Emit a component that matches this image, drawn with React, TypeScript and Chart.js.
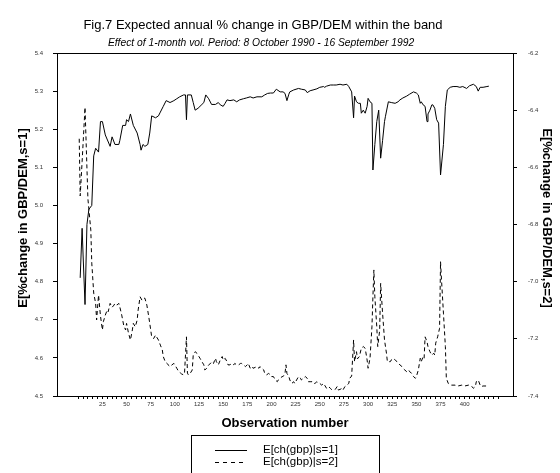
import React, { useEffect, useRef } from "react";
import { Chart, registerables } from "chart.js";

Chart.register(...registerables);

// Series 1: E[ch(gbp)|s=1] (left axis)
const obs1 = [2,4,5,7,9,11,14,16,18,21,23,25,28,33,35,38,42,43,46,49,50,52,54,57,61,64,65,67,69,72,74,76,80,83,85,88,91,95,99,102,105,109,111,112,113,117,119,121,124,128,130,132,135,138,142,145,147,150,152,154,157,161,164,167,171,174,178,181,185,190,193,196,199,202,205,209,212,214,216,218,219,223,228,231,235,237,240,243,247,250,254,255,257,261,264,267,271,274,278,280,283,285,286,288,290,292,293,295,297,299,300,302,304,305,307,309,311,313,315,317,318,321,324,328,331,333,336,340,343,347,350,352,354,355,357,359,361,362,364,366,367,369,371,373,375,378,380,382,385,388,392,395,398,402,405,409,412,414,416,419,423,425];
const gbpS1 = [4.81,4.94,4.87,4.74,4.95,4.99,5.0,5.13,5.15,5.14,5.22,5.22,5.185,5.155,5.18,5.16,5.16,5.17,5.21,5.21,5.225,5.22,5.24,5.21,5.19,5.16,5.145,5.16,5.155,5.16,5.19,5.235,5.23,5.235,5.245,5.26,5.275,5.27,5.275,5.28,5.285,5.29,5.29,5.225,5.29,5.29,5.27,5.25,5.255,5.265,5.27,5.29,5.28,5.265,5.265,5.27,5.264,5.26,5.268,5.277,5.275,5.277,5.272,5.277,5.28,5.282,5.285,5.282,5.285,5.285,5.29,5.294,5.295,5.295,5.305,5.298,5.298,5.294,5.275,5.292,5.298,5.303,5.307,5.305,5.303,5.296,5.301,5.303,5.306,5.31,5.312,5.31,5.313,5.316,5.316,5.316,5.318,5.316,5.318,5.312,5.298,5.23,5.287,5.272,5.268,5.268,5.242,5.25,5.242,5.26,5.281,5.272,5.268,5.093,5.16,5.22,5.25,5.124,5.17,5.22,5.234,5.272,5.27,5.268,5.272,5.277,5.282,5.287,5.292,5.298,5.295,5.29,5.268,5.272,5.264,5.26,5.22,5.24,5.25,5.264,5.264,5.255,5.225,5.216,5.08,5.16,5.26,5.303,5.31,5.312,5.312,5.31,5.312,5.307,5.314,5.318,5.312,5.3,5.31,5.31,5.312,5.313];

// Series 2: E[ch(gbp)|s=2] (right axis)
const obs2 = [1,2,4,7,10,13,14,16,18,19,21,23,25,26,28,30,31,33,35,37,38,40,42,43,45,47,49,50,52,54,56,57,59,61,62,64,66,68,69,71,73,75,76,78,80,81,83,85,87,88,90,92,93,95,97,99,100,102,104,106,107,109,110,112,113,114,116,118,119,121,123,124,126,128,130,131,133,135,137,138,140,142,143,145,147,149,150,152,154,155,157,159,161,162,164,166,168,169,171,173,175,176,178,180,181,185,187,188,190,192,193,195,197,199,200,202,204,206,207,209,211,212,214,215,216,218,219,221,223,224,226,228,230,231,233,235,237,238,240,242,243,245,247,249,250,252,254,255,257,259,261,262,264,266,268,269,271,273,274,276,278,280,281,283,285,286,288,289,291,293,295,297,299,300,302,304,305,306,307,309,310,312,313,315,317,319,320,323,324,326,328,330,331,333,335,336,338,340,342,343,345,347,349,350,352,354,355,357,358,359,361,362,364,366,368,369,370,372,374,375,376,378,380,381,383,386,390,393,397,400,404,407,409,411,412,414,416,417,419,423,424];
const gbpS2 = [-6.5,-6.7,-6.58,-6.39,-6.71,-6.82,-6.935,-7.04,-7.076,-7.134,-7.047,-7.12,-7.169,-7.14,-7.117,-7.099,-7.105,-7.076,-7.09,-7.082,-7.076,-7.082,-7.076,-7.088,-7.117,-7.152,-7.169,-7.146,-7.18,-7.204,-7.169,-7.146,-7.158,-7.134,-7.099,-7.053,-7.065,-7.058,-7.058,-7.082,-7.123,-7.169,-7.193,-7.199,-7.187,-7.193,-7.204,-7.222,-7.239,-7.262,-7.28,-7.286,-7.291,-7.297,-7.291,-7.286,-7.291,-7.303,-7.315,-7.32,-7.323,-7.326,-7.32,-7.193,-7.32,-7.326,-7.32,-7.309,-7.257,-7.245,-7.251,-7.257,-7.268,-7.28,-7.291,-7.309,-7.303,-7.291,-7.286,-7.28,-7.286,-7.268,-7.28,-7.291,-7.274,-7.262,-7.274,-7.268,-7.28,-7.291,-7.291,-7.286,-7.291,-7.286,-7.291,-7.291,-7.286,-7.286,-7.291,-7.297,-7.291,-7.286,-7.303,-7.297,-7.303,-7.297,-7.303,-7.297,-7.303,-7.309,-7.321,-7.326,-7.321,-7.326,-7.332,-7.332,-7.344,-7.35,-7.344,-7.338,-7.332,-7.332,-7.321,-7.291,-7.321,-7.332,-7.344,-7.356,-7.35,-7.356,-7.344,-7.332,-7.338,-7.344,-7.338,-7.332,-7.338,-7.35,-7.35,-7.35,-7.356,-7.356,-7.35,-7.356,-7.356,-7.362,-7.356,-7.362,-7.373,-7.367,-7.373,-7.377,-7.379,-7.377,-7.367,-7.379,-7.377,-7.373,-7.379,-7.367,-7.362,-7.356,-7.338,-7.33,-7.204,-7.28,-7.245,-7.27,-7.262,-7.233,-7.227,-7.233,-7.274,-7.303,-7.268,-7.158,-7.053,-6.959,-7.053,-7.158,-7.227,-7.17,-7.006,-7.11,-7.204,-7.25,-7.28,-7.28,-7.274,-7.268,-7.274,-7.28,-7.286,-7.291,-7.297,-7.303,-7.309,-7.315,-7.309,-7.315,-7.32,-7.332,-7.338,-7.332,-7.309,-7.268,-7.28,-7.262,-7.268,-7.193,-7.21,-7.227,-7.245,-7.257,-7.25,-7.257,-7.215,-7.193,-7.163,-6.93,-6.994,-7.11,-7.227,-7.338,-7.356,-7.362,-7.362,-7.365,-7.362,-7.365,-7.362,-7.365,-7.373,-7.367,-7.35,-7.344,-7.362,-7.367,-7.365,-7.365,-7.367];

const leftTicks = [4.5, 4.6, 4.7, 4.8, 4.9, 5.0, 5.1, 5.2, 5.3, 5.4];
const rightTicks = [-7.4, -7.2, -7.0, -6.8, -6.6, -6.4, -6.2];
const xLabelTicks = [25, 50, 75, 100, 125, 150, 175, 200, 225, 250, 275, 300, 325, 350, 375, 400];

const titleText = "Fig.7 Expected annual % change in GBP/DEM within the band";
const subtitleText = "Effect of 1-month vol. Period: 8 October 1990 - 16 September 1992";
const leftTitle = "E[%change in GBP/DEM,s=1]";
const rightTitle = "E[%change in GBP/DEM,s=2]";
const xTitle = "Observation number";
const legendLabels = ["E[ch(gbp)|s=1]", "E[ch(gbp)|s=2]"];

const FONT = "'Liberation Sans', Arial, Helvetica, sans-serif";

const decorPlugin = {
  id: "decor",
  afterDraw(chart: any) {
    const { ctx, chartArea } = chart;
    const { left, right, top } = chartArea;
    ctx.save();
    ctx.strokeStyle = "#000";
    ctx.lineWidth = 1;
    ctx.beginPath();
    ctx.moveTo(Math.round(left) - 0.5, Math.round(top) + 0.5);
    ctx.lineTo(Math.round(right) + 0.5, Math.round(top) + 0.5);
    ctx.stroke();

    ctx.fillStyle = "#000";
    ctx.textAlign = "center";
    ctx.textBaseline = "middle";
    ctx.font = `13px ${FONT}`;
    ctx.fillText(titleText, 263, 25);
    ctx.font = `italic 10.3px ${FONT}`;
    ctx.fillText(subtitleText, 261, 43);

    ctx.font = `bold 13px ${FONT}`;
    ctx.fillText(xTitle, 285, 423);

    ctx.save();
    ctx.translate(23, 218);
    ctx.rotate(-Math.PI / 2);
    ctx.fillText(leftTitle, 0, 0);
    ctx.restore();

    ctx.save();
    ctx.translate(547, 218);
    ctx.rotate(Math.PI / 2);
    ctx.fillText(rightTitle, 0, 0);
    ctx.restore();

    // legend box
    ctx.strokeRect(191.5, 435.5, 188, 60);
    ctx.beginPath();
    ctx.moveTo(215, 450.5);
    ctx.lineTo(247, 450.5);
    ctx.stroke();
    ctx.setLineDash([4, 4]);
    ctx.beginPath();
    ctx.moveTo(215, 462.5);
    ctx.lineTo(247, 462.5);
    ctx.stroke();
    ctx.setLineDash([]);
    ctx.textAlign = "left";
    ctx.font = `11.5px ${FONT}`;
    ctx.fillText(legendLabels[0], 263, 450);
    ctx.fillText(legendLabels[1], 263, 462);
    ctx.restore();
  },
};

export default function App() {
  const ref = useRef<HTMLCanvasElement | null>(null);
  useEffect(() => {
    if (!ref.current) return;
    const tickFont = { family: FONT, size: 6 };
    const chart = new Chart(ref.current, {
      type: "line",
      data: {
        datasets: [
          {
            label: legendLabels[0],
            data: obs1.map((x, i) => ({ x, y: gbpS1[i] })),
            yAxisID: "y",
            borderColor: "#000",
            borderWidth: 1,
            pointRadius: 0,
            tension: 0,
            fill: false,
          },
          {
            label: legendLabels[1],
            data: obs2.map((x, i) => ({ x, y: gbpS2[i] })),
            yAxisID: "y2",
            borderColor: "#000",
            borderWidth: 1,
            borderDash: [4, 3],
            pointRadius: 0,
            tension: 0,
            fill: false,
          },
        ],
      },
      options: {
        animation: false,
        responsive: false,
        events: [],
        layout: { padding: { top: 53, left: 0, right: 0, bottom: 0 } },
        plugins: { legend: { display: false }, title: { display: false }, tooltip: { enabled: false } },
        scales: {
          x: {
            type: "linear",
            position: "bottom",
            min: -22,
            max: 450,
            afterBuildTicks: (axis: any) => {
              const t = [];
              for (let v = 0; v <= 435; v += 5) t.push({ value: v });
              axis.ticks = t;
            },
            afterFit: (axis: any) => { axis.height = 77; },
            ticks: {
              autoSkip: false,
              maxRotation: 0,
              minRotation: 0,
              padding: 2,
              color: "#333",
              font: tickFont,
              callback: (v: any) => (xLabelTicks.includes(Number(v)) ? String(v) : ""),
            },
            grid: { drawOnChartArea: false, drawTicks: true, tickLength: 3, color: "#000" },
            border: { display: true, color: "#000", width: 1 },
          },
          y: {
            type: "linear",
            position: "left",
            min: 4.5,
            max: 5.4,
            afterBuildTicks: (axis: any) => { axis.ticks = leftTicks.map((v) => ({ value: v })); },
            afterFit: (axis: any) => { axis.width = 57; },
            ticks: { padding: 10, color: "#333", font: tickFont, callback: (v: any) => Number(v).toFixed(1) },
            grid: { drawOnChartArea: false, drawTicks: true, tickLength: 4, color: "#000" },
            border: { display: true, color: "#000", width: 1 },
          },
          y2: {
            type: "linear",
            position: "right",
            min: -7.4,
            max: -6.2,
            afterBuildTicks: (axis: any) => { axis.ticks = rightTicks.map((v) => ({ value: v })); },
            afterFit: (axis: any) => { axis.width = 47; },
            ticks: { padding: 11, color: "#333", font: tickFont, callback: (v: any) => Number(v).toFixed(1) },
            grid: { drawOnChartArea: false, drawTicks: true, tickLength: 4, color: "#000" },
            border: { display: true, color: "#000", width: 1 },
          },
        },
      },
      plugins: [decorPlugin],
    } as any);
    return () => chart.destroy();
  }, []);
  return (
    <div style={{ position: "absolute", left: 0, top: 0, width: 560, height: 473, background: "#fff" }}>
      <canvas ref={ref} width={560} height={473} style={{ display: "block", width: 560, height: 473 }} />
    </div>
  );
}
